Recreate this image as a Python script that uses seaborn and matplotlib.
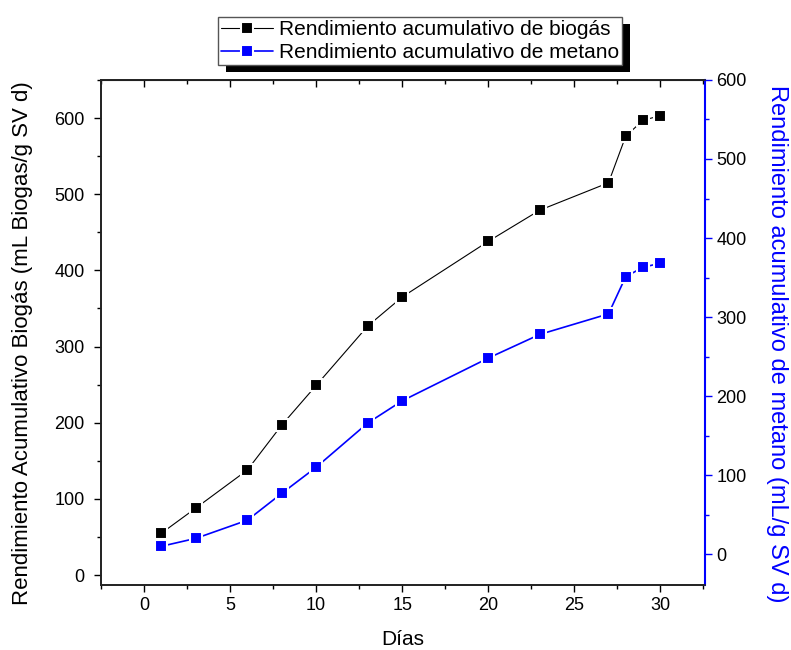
import seaborn as sns
import matplotlib.pyplot as plt
from matplotlib.ticker import MultipleLocator
from matplotlib.patches import Rectangle
import pandas as pd

# data
dias = [1, 3, 6, 8, 10, 13, 15, 20, 23, 27, 28, 29, 30]
biogas = [55, 88, 138, 197, 249, 327, 365, 438, 479, 515, 576, 597, 603]
metano = [10, 20, 43, 77, 110, 166, 194, 248, 278, 304, 351, 363, 368]

df = pd.DataFrame({'dias': dias, 'biogas': biogas, 'metano': metano})

sns.set_style('ticks')
plt.rcParams['font.family'] = ['Liberation Sans', 'DejaVu Sans']
plt.rcParams['text.color'] = 'black'
plt.rcParams['axes.labelcolor'] = 'black'
plt.rcParams['xtick.color'] = 'black'
plt.rcParams['ytick.color'] = 'black'

fig = plt.figure(figsize=(7.91, 6.5), dpi=100)
ax = fig.add_axes([0.128, 0.1, 0.763, 0.777])
ax2 = ax.twinx()

sns.lineplot(x='dias', y='biogas', data=df, ax=ax, color='black', lw=0.8,
             marker='s', markersize=9, markeredgecolor='white', markeredgewidth=1.5,
             label='Rendimiento acumulativo de biogás', legend=False)
sns.lineplot(x='dias', y='metano', data=df, ax=ax2, color='blue', lw=1.2,
             marker='s', markersize=9, markeredgecolor='white', markeredgewidth=1.5,
             label='Rendimiento acumulativo de metano', legend=False)

ax.set_xlim(-2.5, 32.6)
ax.set_ylim(-13, 650)
ax2.set_ylim(-39, 600)

ax.xaxis.set_major_locator(MultipleLocator(5))
ax.xaxis.set_minor_locator(MultipleLocator(2.5))
ax.yaxis.set_major_locator(MultipleLocator(100))
ax.yaxis.set_minor_locator(MultipleLocator(50))
ax2.yaxis.set_major_locator(MultipleLocator(100))
ax2.yaxis.set_minor_locator(MultipleLocator(50))

ax.tick_params(which='major', direction='out', length=5, width=1, labelsize=13)
ax.tick_params(which='minor', direction='out', length=3, width=1)
ax.tick_params(axis='y', which='major', pad=7)
ax2.tick_params(which='major', direction='out', length=5, width=1, labelsize=13,
                color='blue', labelcolor='black')
ax2.tick_params(which='minor', direction='out', length=3, width=1, color='blue')

top = ax.secondary_xaxis('top')
top.xaxis.set_major_locator(MultipleLocator(5))
top.xaxis.set_minor_locator(MultipleLocator(2.5))
top.tick_params(which='major', direction='in', length=5, width=1, labeltop=False)
top.tick_params(which='minor', direction='in', length=3, width=1)

for sp in ax.spines.values():
    sp.set_linewidth(1.2)
    sp.set_color('black')
for sp in ax2.spines.values():
    sp.set_linewidth(1.2)
ax2.spines['right'].set_color('blue')
ax2.spines['right'].set_linewidth(1.5)

ax.set_xlabel('Días', fontsize=15, labelpad=12)
ax.set_ylabel('Rendimiento Acumulativo Biogás (mL Biogas/g SV d)', fontsize=16,
              va='center', ha='center')
ax.yaxis.set_label_coords(-0.131, 0.478)
ax2.set_ylabel('Rendimiento acumulativo de metano (mL/g SV d)', fontsize=17,
               color='blue', rotation=270, va='center', ha='center')
ax2.yaxis.set_label_coords(1.12, 0.478)

h1, l1 = ax.get_legend_handles_labels()
h2, l2 = ax2.get_legend_handles_labels()
leg = fig.legend(h1 + h2, l1 + l2, loc='center', bbox_to_anchor=(0.531, 0.937),
                 fontsize=15, frameon=True, fancybox=False,
                 handlelength=2.5, handletextpad=0.3, borderpad=0.15, labelspacing=0.2,
                 borderaxespad=0)
leg.get_frame().set_edgecolor('#555555')
leg.get_frame().set_linewidth(1)
leg.get_frame().set_alpha(1)

# black drop shadow behind the legend box
fig.canvas.draw()
bb = leg.get_window_extent().transformed(fig.transFigure.inverted())
dx, dy = 8 / 791, 7 / 650
fig.patches.append(Rectangle((bb.x0 + dx, bb.y0 - dy), bb.width, bb.height,
                             transform=fig.transFigure, facecolor='black',
                             edgecolor='none', zorder=4))

fig.savefig('out.png', dpi=100)
